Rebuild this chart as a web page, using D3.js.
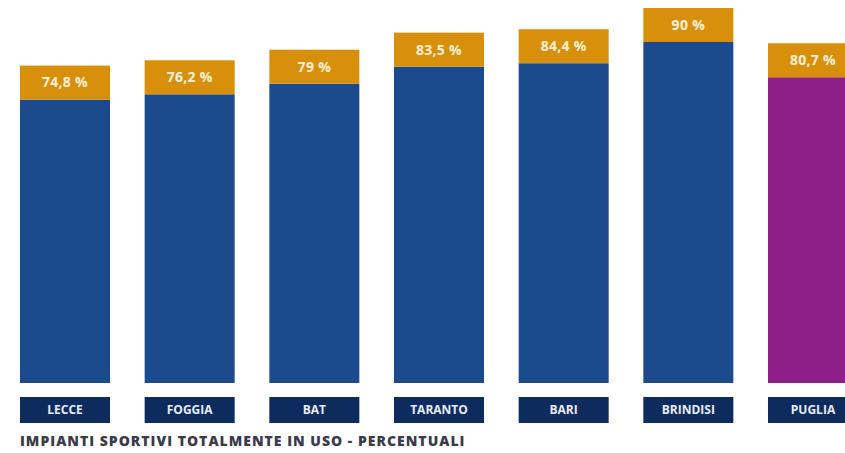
<!DOCTYPE html>
<html>
<head>
<meta charset="utf-8">
<script src="https://cdn.jsdelivr.net/npm/d3@7"></script>
<style>
  html, body { margin: 0; padding: 0; background: #ffffff; }
  svg { display: block; }
</style>
</head>
<body>
<script>
// Data
const categories = ["LECCE", "FOGGIA", "BAT", "TARANTO", "BARI", "BRINDISI", "PUGLIA"];
const values = [74.8, 76.2, 79, 83.5, 84.4, 90, 80.7];
const valueLabels = ["74,8 %", "76,2 %", "79 %", "83,5 %", "84,4 %", "90 %", "80,7 %"];
const title = "IMPIANTI SPORTIVI TOTALMENTE IN USO - PERCENTUALI";

const W = 845, H = 453;
const svg = d3.select("body").append("svg").attr("width", W).attr("height", H);

const x = d3.scaleBand().domain(categories).range([20, 858]).paddingInner(0.278).paddingOuter(0);
const y = d3.scaleLinear().domain([0, 90]).range([383, 42]);

const blue = "#1b4b8c", purple = "#8f1f88", orange = "#d8900c", navy = "#0e2b5e";
const labelH = 34;
const font = "'Open Sans', 'Liberation Sans', sans-serif";

const g = svg.append("g");
const bars = g.selectAll("g.bar").data(categories).join("g").attr("class", "bar");

bars.append("rect")
  .attr("x", d => x(d))
  .attr("y", (d, i) => y(values[i]))
  .attr("width", x.bandwidth())
  .attr("height", (d, i) => y(0) - y(values[i]))
  .attr("fill", d => d === "PUGLIA" ? purple : blue);

bars.append("rect")
  .attr("x", d => x(d))
  .attr("y", (d, i) => y(values[i]) - labelH)
  .attr("width", x.bandwidth())
  .attr("height", labelH)
  .attr("fill", orange);

bars.append("text")
  .attr("x", d => x(d) + x.bandwidth() / 2)
  .attr("y", (d, i) => y(values[i]) - labelH / 2)
  .attr("dy", "0.35em")
  .attr("text-anchor", "middle")
  .attr("font-family", font)
  .attr("font-weight", "bold")
  .attr("font-size", 14)
  .attr("letter-spacing", 0.3)
  .attr("fill", "#fdf0d8")
  .text((d, i) => valueLabels[i]);

// category label boxes
bars.append("rect")
  .attr("x", d => x(d))
  .attr("y", 397)
  .attr("width", x.bandwidth())
  .attr("height", 26)
  .attr("fill", navy);

bars.append("text")
  .attr("x", d => x(d) + x.bandwidth() / 2)
  .attr("y", 410)
  .attr("dy", "0.35em")
  .attr("text-anchor", "middle")
  .attr("font-family", font)
  .attr("font-weight", "bold")
  .attr("font-size", 12)
  .attr("fill", "#e8ecf4")
  .text(d => d);

svg.append("text")
  .attr("x", 20)
  .attr("y", 446)
  .attr("font-family", font)
  .attr("font-weight", 800)
  .attr("font-size", 14)
  .attr("letter-spacing", 1.0)
  .attr("fill", "#3a3a4c")
  .text(title);
</script>
</body>
</html>
